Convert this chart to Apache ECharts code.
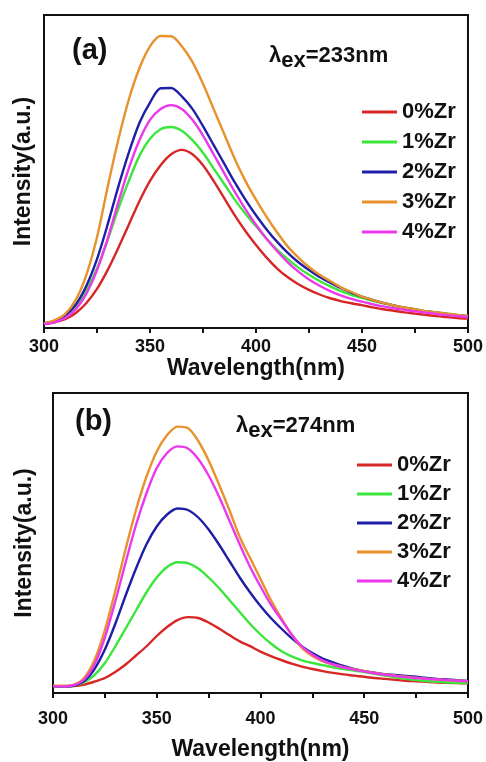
<!DOCTYPE html>
<html>
<head>
<meta charset="utf-8">
<script src="https://cdn.jsdelivr.net/npm/echarts@6/dist/echarts.min.js"></script>
<style>
html,body{margin:0;padding:0;background:#fff;}
#main{width:486px;height:762px;}
</style>
</head>
<body>
<div id="main"></div>
<script>
//波长 (nm)
var wl=[300,305,310,315,320,325,330,335,340,345,350,355,360,365,370,375,380,385,390,395,400,
    405,410,415,420,425,430,435,440,445,450,455,460,465,470,475,480,485,490,495,500];
var names=['0%Zr','1%Zr','2%Zr','3%Zr','4%Zr'];
var colors=['#d62626','#3ae63a','#1e1ea6','#e8922c','#ec38ec'];
//(a) λex=233nm
var aZr0=[1.3,1.8,2.8,4.8,8,12.5,18.5,25.5,33,40.5,47,52,55.5,56.9,55.5,52,47,41.5,36,31,26.5,
    22.5,19,16.2,14,12.2,10.7,9.5,8.6,7.9,7.3,6.6,6,5.5,5,4.6,4.2,3.8,3.5,3.2,3];
var aZr1=[1.4,2.2,3.8,7,12,19,28,38,47,55,60.5,63.5,64.2,63,60,56,51,46,41,36.5,32.5,
    28.5,25,22,19.3,17,15,13.3,11.8,10.6,9.6,8.7,7.9,7.2,6.5,6,5.4,5,4.6,4.2,3.8];
var aZr2=[1.5,2.3,4,7.5,13.5,22,33,45,56,65.5,72,76.6,76.7,74,70,64.5,58.5,52.5,46.5,41,36,
    31.5,27.5,24,21,18.5,16.3,14.5,12.8,11.3,10,9,8,7.2,6.5,5.9,5.3,4.9,4.5,4.1,3.8];
var aZr3=[1.5,2.5,4.5,9,17,29,45,60,73,83,90,93.3,93.2,90,85,78,70,62,54,47,41,
    35.5,30.5,26,22.5,19.5,17,15,13,11.5,10,9,8,7.2,6.5,6,5.4,5,4.6,4.2,3.9];
var aZr4=[1.2,1.8,3.2,6,11,18.5,28.5,40,51,60,66.5,70,71.2,70,66.5,61.5,55.5,49.5,43.5,38,33,
    28.5,24.5,21,18,15.5,13.5,11.8,10.4,9.3,8.4,7.6,6.9,6.3,5.8,5.3,4.9,4.5,4.1,3.8,3.5];
//(b) λex=274nm
var bZr0=[2.3,2.2,2.3,2.8,3.8,5,7,9.5,12.5,15.5,19,22,24.3,25.3,25,23.5,21.5,19.3,17.2,15.6,13.8,
    12.3,11,9.8,8.8,8,7.3,6.7,6.2,5.8,5.4,5,4.7,4.4,4.1,3.9,3.7,3.5,3.4,3.3,3.2];
var bZr1=[2.3,2.2,2.5,3.6,6,10,15.5,21.5,27.5,33.5,38.5,42,43.6,43.3,41.5,38.5,35,31,27,23,19.5,
    16.5,14,12.2,10.9,10,9.3,8.6,8,7.5,7,6.4,5.8,5.2,4.7,4.3,4,3.7,3.5,3.4,3.3];
var bZr2=[2.3,2.2,2.5,4,8,14.5,23,32.5,41.5,49.5,55.5,59.5,61.5,61,58.5,54.5,49.5,44,38.5,33.5,29,
    25,21.5,18.3,15.5,13.3,11.5,10.2,9,8,7.3,6.8,6.3,6,5.7,5.4,5,4.7,4.5,4.3,4];
var bZr3=[2.5,2.4,2.8,5,11,21,34,48,61,72,80.5,86,88.8,88.3,84,77.5,69.5,61,52,45,38,
    31,25,19.5,15,12.3,10.5,9.5,8.6,7.9,7.3,6.7,6.2,5.8,5.4,5.1,4.8,4.5,4.3,4.1,3.9];
var bZr4=[2.3,2.2,2.6,4.5,9.5,18.5,30.5,43.5,56,66.5,75,80,82.2,81.5,78,72.5,65.5,57.5,49.5,42,35.5,
    29.5,24.5,19.5,15.5,12.8,10.8,9.5,8.5,7.8,7.2,6.6,6.1,5.7,5.3,5,4.7,4.5,4.3,4.1,3.9];

var font="Arial, 'Liberation Sans', sans-serif";
function pairs(arr){
    var d=[];
    for(var i=0;i<wl.length;i++){
        d.push([wl[i],arr[i]]);
    }
    return d;
}
function xAx(idx,gap,margin){
    return {
        type:'value',gridIndex:idx,min:300,max:500,interval:50,
        name:'Wavelength(nm)',nameLocation:'middle',nameGap:gap,
        nameTextStyle:{color:'#111',fontSize:23,fontWeight:'bold',fontFamily:font},
        axisLine:{lineStyle:{color:'#111',width:2}},
        axisTick:{length:5,lineStyle:{color:'#111',width:2}},
        minorTick:{show:true,splitNumber:2,length:5,lineStyle:{color:'#111',width:2}},
        axisLabel:{color:'#111',fontSize:18,fontWeight:'bold',fontFamily:font,margin:margin},
        splitLine:{show:false}
    };
}
function yAx(idx,gap){
    return {
        type:'value',gridIndex:idx,min:0,max:100,
        name:'Intensity(a.u.)',nameLocation:'middle',nameGap:gap,
        nameTextStyle:{color:'#111',fontSize:23,fontWeight:'bold',fontFamily:font},
        axisLine:{show:true,lineStyle:{color:'#111',width:2}},
        axisTick:{show:false},axisLabel:{show:false},splitLine:{show:false}
    };
}
function legendAt(left,top,gap){
    return {
        orient:'vertical',left:left,top:top,itemWidth:35,itemHeight:3,itemGap:gap,icon:'rect',
        data:names,
        textStyle:{color:'#111',fontSize:22,fontWeight:'bold',fontFamily:font,lineHeight:22}
    };
}
function exLabel(left,top,txt){
    return {
        left:left,top:top,
        text:'{l|λ}{s|ex}{n|'+txt+'}',
        textStyle:{rich:{
            l:{fontSize:22,fontFamily:font,color:'#111',lineHeight:32,verticalAlign:'middle'},
            s:{fontSize:22,fontWeight:'bold',fontFamily:font,color:'#111',lineHeight:32,verticalAlign:'bottom'},
            n:{fontSize:22,fontWeight:'bold',fontFamily:font,color:'#111',lineHeight:32,verticalAlign:'middle'}
        }}
    };
}
var aData=[aZr0,aZr1,aZr2,aZr3,aZr4];
var bData=[bZr0,bZr1,bZr2,bZr3,bZr4];
var series=[];
for(var k=0;k<names.length;k++){
    series.push({name:names[k],type:'line',xAxisIndex:0,yAxisIndex:0,data:pairs(aData[k]),
        symbol:'none',smooth:0.3,lineStyle:{width:2.4,color:colors[k]},itemStyle:{color:colors[k]}});
}
for(var j=0;j<names.length;j++){
    series.push({name:names[j],type:'line',xAxisIndex:1,yAxisIndex:1,data:pairs(bData[j]),
        symbol:'none',smooth:0.3,lineStyle:{width:2.4,color:colors[j]},itemStyle:{color:colors[j]}});
}
var chart=echarts.init(document.getElementById('main'));
var option={
    animation:false,
    backgroundColor:'#fff',
    grid:[
        {left:44,top:15,width:426,height:313,show:true,borderColor:'#111',borderWidth:2},
        {left:53,top:393,width:417,height:306,show:true,borderColor:'#111',borderWidth:2}
    ],
    xAxis:[xAx(0,29,10),xAx(1,45,17)],
    yAxis:[yAx(0,9),yAx(1,17)],
    title:[
        {left:67,top:31,text:'(a)',textStyle:{fontSize:29,fontWeight:'bold',fontFamily:font,color:'#111'}},
        exLabel(264,35,'=233nm'),
        {left:70,top:402,text:'(b)',textStyle:{fontSize:29,fontWeight:'bold',fontFamily:font,color:'#111'}},
        exLabel(231,405,'=274nm')
    ],
    legend:[legendAt(357,96,8),legendAt(352,449,7)],
    series:series
};
chart.setOption(option);
</script>
</body>
</html>
